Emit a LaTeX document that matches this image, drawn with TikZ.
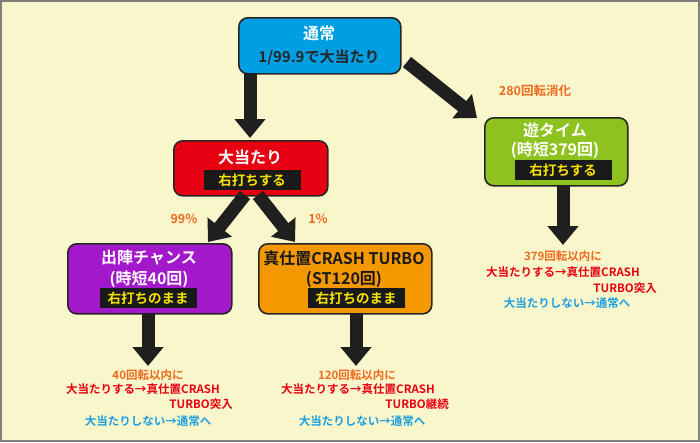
\documentclass[tikz,border=0pt]{standalone}
\usepackage{fontspec}
\setmainfont{Noto Sans CJK JP}[BoldFont={Noto Sans CJK JP Bold}]
\usetikzlibrary{arrows.meta}
\definecolor{bg}{HTML}{FAF6CC}
\definecolor{cblue}{HTML}{009FE3}
\definecolor{cred}{HTML}{E60012}
\definecolor{cgreen}{HTML}{8DC21F}
\definecolor{cpurple}{HTML}{A318CB}
\definecolor{corange}{HTML}{F39800}
\definecolor{tor}{HTML}{EE6A1E}
\definecolor{tred}{HTML}{E60012}
\definecolor{tblue}{HTML}{1E9FE0}
\definecolor{tyel}{HTML}{F5E100}
\begin{document}
\begin{tikzpicture}[x=1pt,y=-1pt,font=\bfseries,
 box/.style={draw=black!85,line width=1.6pt,rounded corners=9pt,anchor=north west},
 arr/.style={line width=13pt,draw=black!88,-{Triangle[width=30pt,length=19pt]}},
 ttl/.style={text=white,font=\bfseries\fontsize{16}{18}\selectfont},
 tag/.style={fill=black!90,text=tyel,font=\bfseries\fontsize{13.5}{15}\selectfont,inner sep=1pt,minimum width=97pt,minimum height=20pt},
 small/.style={font=\bfseries\fontsize{11.5}{13}\selectfont,inner sep=0pt},
 pct/.style={text=tor,font=\bfseries\fontsize{12.5}{14}\selectfont}]
\fill[bg] (0,0) rectangle (700,442);
\draw[gray,line width=2pt] (1,1) rectangle (699,441);
% boxes
\node[box,fill=cblue,minimum width=162pt,minimum height=56pt] (n) at (238,17) {};
\node[ttl] at (319,33) {通常};
\node[font=\bfseries\fontsize{15}{17}\selectfont,text=black!85] at (319,57) {1/99.9で大当たり};
\node[box,fill=cred,minimum width=154pt,minimum height=55pt] (o) at (173,140) {};
\node[ttl] at (250,157) {大当たり};
\node[tag] at (252,180) {右打ちする};
\node[box,fill=cgreen,minimum width=143pt,minimum height=68pt] (y) at (484,117) {};
\node[ttl] at (555,130) {遊タイム};
\node[ttl] at (555,150) {(時短379回)};
\node[tag] at (563,170) {右打ちする};
\node[box,fill=cpurple,minimum width=164pt,minimum height=70pt] (s) at (67,243) {};
\node[ttl] at (149,258) {出陣チャンス};
\node[ttl] at (149,279) {(時短40回)};
\node[tag] at (148,298) {右打ちのまま};
\node[box,fill=corange,minimum width=173pt,minimum height=70pt] (m) at (258,243) {};
\node[ttl,text=black!90] at (344,258) {真仕置CRASH TURBO};
\node[ttl,text=black!90] at (344,279) {(ST120回)};
\node[tag] at (356,298) {右打ちのまま};
% arrows
\coordinate (a1) at (250,73); \coordinate (b1) at (250,138);
\draw[arr] (a1) -- (b1);
\coordinate (a2) at (407,62); \coordinate (b2) at (477,118);
\draw[arr] (a2) -- (b2);
\coordinate (a3) at (245,195); \coordinate (b3) at (208,242);
\draw[arr] (a3) -- (b3);
\coordinate (a4) at (258,195); \coordinate (b4) at (295,242);
\draw[arr] (a4) -- (b4);
\coordinate (a5) at (563,185); \coordinate (b5) at (563,245);
\draw[arr] (a5) -- (b5);
\coordinate (a6) at (148,313); \coordinate (b6) at (148,366);
\draw[arr] (a6) -- (b6);
\coordinate (a7) at (356,313); \coordinate (b7) at (356,366);
\draw[arr] (a7) -- (b7);
% labels
\node[pct] at (535,91) {280回転消化};
\node[pct] at (184,219) {99\%};
\node[pct] at (318,219) {1\%};
\node[small,text=tor] at (148,375) {40回転以内に};
\node[small,text=tred] at (143,389) {大当たりする→真仕置CRASH};
\node[small,text=tred,anchor=east] at (233,404) {TURBO突入};
\node[small,text=tblue] at (148,421) {大当たりしない→通常へ};
\node[small,text=tor] at (357,375) {120回転以内に};
\node[small,text=tred] at (358,389) {大当たりする→真仕置CRASH};
\node[small,text=tred,anchor=east] at (449,404) {TURBO継続};
\node[small,text=tblue] at (362,421) {大当たりしない→通常へ};
\node[small,text=tor] at (563,256) {379回転以内に};
\node[small,text=tred] at (563,272) {大当たりする→真仕置CRASH};
\node[small,text=tred,anchor=east] at (657,288) {TURBO突入};
\node[small,text=tblue] at (567,303) {大当たりしない→通常へ};
\end{tikzpicture}
\end{document}
